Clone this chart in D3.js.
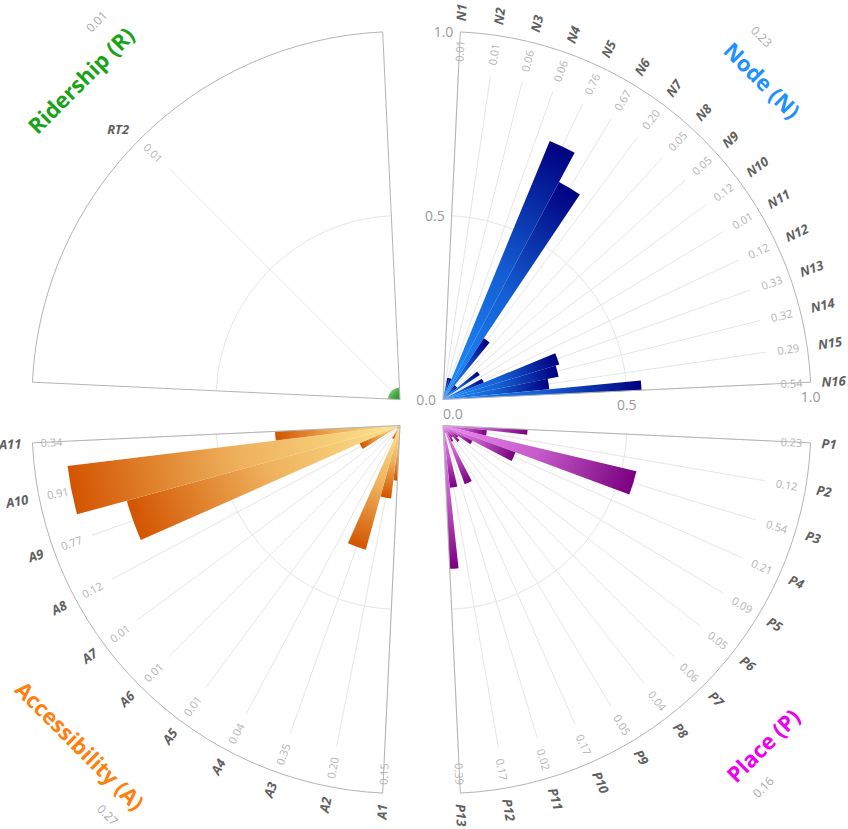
<!DOCTYPE html>
<html>
<head>
<meta charset="utf-8">
<script src="https://cdn.jsdelivr.net/npm/d3@7"></script>
<style>
  body { margin: 0; background: #fff; }
  svg { display: block; font-family: "Open Sans", "Noto Sans", sans-serif; }
</style>
</head>
<body>
<div id="chart"></div>
<script>
// data
var nodeCats = ["N1","N2","N3","N4","N5","N6","N7","N8","N9","N10","N11","N12","N13","N14","N15","N16"];
var nodeVals = [0.01,0.01,0.06,0.06,0.76,0.67,0.20,0.05,0.05,0.12,0.01,0.12,0.33,0.32,0.29,0.54];
var placeCats = ["P1","P2","P3","P4","P5","P6","P7","P8","P9","P10","P11","P12","P13"];
var placeVals = [0.23,0.12,0.54,0.21,0.09,0.05,0.06,0.04,0.05,0.17,0.02,0.17,0.39];
var accCats = ["A1","A2","A3","A4","A5","A6","A7","A8","A9","A10","A11"];
var accVals = [0.15,0.20,0.35,0.04,0.01,0.01,0.01,0.12,0.77,0.91,0.34];
var ridCats = ["RT2"];
var ridVals = [0.01];
var groupNames = ["Node (N)", "Place (P)", "Accessibility (A)", "Ridership (R)"];
var groupScores = [0.23, 0.16, 0.27, 0.01];
var radialTicks = [0.0, 0.5, 1.0];

var svgWidth = 848;
var svgHeight = 829;
var center = [421.5, 412.5];
var offX = 21.5, offY = 13;
var rOuter = 368;
var gridEnd = 327;
var valueLabelR = 338;
var catLabelR = 379;
var titleR = 452;
var scoreR = 482;
var gapDeg = 2.7;
var rad = Math.PI / 180;

var svg = d3.select("#chart")
  .append("svg")
  .attr("width", svgWidth)
  .attr("height", svgHeight);
var defs = svg.append("defs");

var rScale = d3.scaleLinear().domain([0, 1]).range([0, rOuter]);
var fmt = d3.format(".2f");

var quads = [
  {cats: nodeCats, vals: nodeVals, q: 0, sx: 1, sy: -1, light: "#1e90ff", dark: "#000080", title: "#1e90ff", axis: true},
  {cats: placeCats, vals: placeVals, q: 1, sx: 1, sy: 1, light: "#ee8af0", dark: "#7a007f", title: "#ee00ee"},
  {cats: accCats, vals: accVals, q: 2, sx: -1, sy: 1, light: "#fde28c", dark: "#d35400", title: "#ff7f0e"},
  {cats: ridCats, vals: ridVals, q: 3, sx: -1, sy: -1, light: "#2a8a2a", dark: "#70cc70", title: "#19a319", minBar: 12}
];

function pt(r, a) { return [r * Math.sin(a), -r * Math.cos(a)]; }

function arcLine(r, a0, a1) {
  var p = d3.path();
  var s = pt(r, a0);
  p.moveTo(s[0], s[1]);
  p.arc(0, 0, r, a0 - Math.PI / 2, a1 - Math.PI / 2);
  return p.toString();
}

quads.forEach(function(Q, qi) {
  Q.name = groupNames[qi];
  Q.score = groupScores[qi];
  var a0 = (Q.q * 90 + gapDeg) * rad;
  var a1 = (Q.q * 90 + 90 - gapDeg) * rad;
  var g = svg.append("g")
    .attr("transform", "translate(" + (center[0] + Q.sx * offX) + "," + (center[1] + Q.sy * offY) + ")");

  var angle = d3.scalePoint().domain(Q.cats).range([a0, a1]);
  var step = angle.step();
  var data = Q.cats.map(function(c, i) { return {cat: c, val: Q.vals[i], a: angle(c)}; });
  var barR = function(d) {
    var r = rScale(d.val);
    return Q.minBar ? Math.max(r, Q.minBar) : r;
  };

  // grid lines per category
  g.selectAll("line.grid")
    .data(data)
    .enter()
    .append("line")
    .attr("class", "grid")
    .attr("x1", 0).attr("y1", 0)
    .attr("x2", function(d) { return pt(gridEnd, d.a)[0]; })
    .attr("y2", function(d) { return pt(gridEnd, d.a)[1]; })
    .attr("stroke", "#e6e6e6")
    .attr("stroke-width", 1);

  // inner ring at 0.5
  g.append("path")
    .attr("d", arcLine(rScale(0.5), a0, a1))
    .attr("fill", "none")
    .attr("stroke", "#e6e6e6");

  // bars
  var arc = d3.arc().innerRadius(0);
  var midCol = d3.interpolateRgb(Q.light, Q.dark)(0.35);
  g.selectAll("path.bar")
    .data(data)
    .enter()
    .append("path")
    .attr("class", "bar")
    .attr("d", function(d) {
      return arc({outerRadius: barR(d),
        startAngle: Math.max(d.a - step / 2, a0),
        endAngle: Math.min(d.a + step / 2, a1)});
    })
    .attr("fill", function(d, i) {
      var id = "grad" + qi + "_" + i;
      var tip = pt(barR(d), d.a);
      var gr = defs.append("linearGradient")
        .attr("id", id)
        .attr("gradientUnits", "userSpaceOnUse")
        .attr("x1", 0).attr("y1", 0)
        .attr("x2", tip[0]).attr("y2", tip[1]);
      gr.append("stop").attr("offset", "0%").attr("stop-color", Q.light);
      gr.append("stop").attr("offset", "50%").attr("stop-color", midCol);
      gr.append("stop").attr("offset", "100%").attr("stop-color", Q.dark);
      return "url(#" + id + ")";
    });

  // quadrant outline
  var e0 = pt(rOuter, a0);
  g.append("path")
    .attr("d", "M0,0L" + e0[0] + "," + e0[1] + arcLine(rOuter, a0, a1).replace(/^M[^A]*/, "") + "Z")
    .attr("fill", "none")
    .attr("stroke", "#b4b4b4")
    .attr("stroke-width", 1);

  // value labels
  g.selectAll("text.val")
    .data(data)
    .enter()
    .append("text")
    .attr("class", "val")
    .attr("transform", function(d) {
      var p = pt(valueLabelR, d.a);
      var deg = d.a / rad;
      var rot = deg > 180 ? deg - 270 : deg - 90;
      return "translate(" + p[0] + "," + p[1] + ") rotate(" + rot + ")";
    })
    .attr("text-anchor", function(d) { return d.a / rad > 180 ? "end" : "start"; })
    .attr("dominant-baseline", "central")
    .attr("font-size", 11)
    .attr("fill", "#b4b4b4")
    .text(function(d) { return fmt(d.val); });

  // category labels
  g.selectAll("text.cat")
    .data(data)
    .enter()
    .append("text")
    .attr("class", "cat")
    .attr("transform", function(d) {
      var deg = d.a / rad;
      if (Q.cats.length === 1) {
        var p1 = pt(catLabelR + 4, d.a);
        return "translate(" + p1[0] + "," + p1[1] + ")";
      }
      var p = pt(catLabelR, d.a);
      var rot = deg > 180 ? deg - 270 : deg - 90;
      return "translate(" + p[0] + "," + p[1] + ") rotate(" + rot + ")";
    })
    .attr("text-anchor", function(d) { return d.a / rad > 180 ? "end" : "start"; })
    .attr("dominant-baseline", "central")
    .attr("font-size", 13)
    .attr("font-weight", "bold")
    .attr("font-style", "italic")
    .attr("fill", "#606060")
    .text(function(d) { return d.cat; });

  // radial axis labels (node quadrant only)
  if (Q.axis) {
    radialTicks.forEach(function(t) {
      var p = pt(rScale(t), a0);
      g.append("text")
        .attr("x", p[0] - 7).attr("y", p[1])
        .attr("text-anchor", "end")
        .attr("dominant-baseline", "central")
        .attr("font-size", 14)
        .attr("fill", "#999")
        .text(d3.format(".1f")(t));
      var b = pt(rScale(t), a1);
      g.append("text")
        .attr("x", b[0]).attr("y", b[1] + 14)
        .attr("text-anchor", t === 0 ? "start" : "middle")
        .attr("dominant-baseline", "central")
        .attr("font-size", 14)
        .attr("fill", "#999")
        .text(d3.format(".1f")(t));
    });
  }

  // group title and score
  var mid = (Q.q * 90 + 45) * rad;
  var rotT = ((Q.q * 90 + 45 + 90) % 180) - 90;
  var tp = pt(titleR, mid);
  var title = g.append("text")
    .attr("transform", "translate(" + tp[0] + "," + tp[1] + ") rotate(" + rotT + ")")
    .attr("text-anchor", "middle")
    .attr("dominant-baseline", "central")
    .attr("font-size", 22)
    .attr("font-weight", "bold")
    .attr("fill", Q.title)
    .text(Q.name);
  var half = title.node().getComputedTextLength() / 2;
  // tangent pointing toward the vertical axis
  var toVert = (Q.q === 0 || Q.q === 2) ? -1 : 1;
  var tx = Math.cos(mid) * toVert, ty = Math.sin(mid) * toVert;
  var sp = pt(scoreR, mid);
  var off = half - 17;
  g.append("text")
    .attr("transform", "translate(" + (sp[0] + tx * off) + "," + (sp[1] + ty * off) + ") rotate(" + rotT + ")")
    .attr("text-anchor", "middle")
    .attr("dominant-baseline", "central")
    .attr("font-size", 12)
    .attr("fill", "#aaa")
    .text(fmt(Q.score));
});
</script>
</body>
</html>
